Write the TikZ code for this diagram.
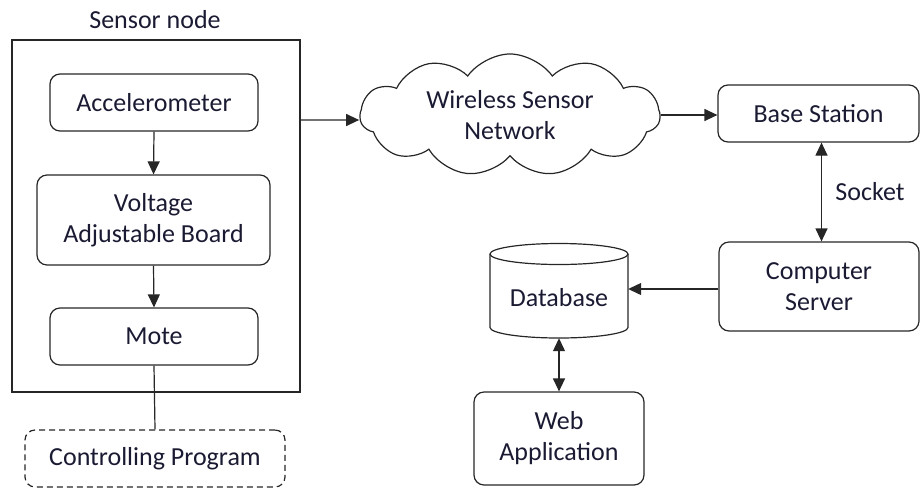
\documentclass[tikz,border=0pt]{standalone}
\usepackage{fontspec}
\setmainfont{Carlito}
\usetikzlibrary{arrows.meta,shapes.symbols}
\definecolor{ink}{HTML}{1A1A33}
\begin{document}
\begin{tikzpicture}[x=1pt,y=-1pt,
  line/.style={draw=black!85, line width=1.2pt},
  txt/.style={text=ink, font=\fontsize{26}{31}\selectfont, align=center},
  box/.style={line, txt, rounded corners=10pt, inner sep=0pt},
  arr/.style={line, -{Triangle[length=13pt,width=12pt]}},
  dblarr/.style={line, {Triangle[length=13pt,width=12pt]}-{Triangle[length=13pt,width=12pt]}}]
\useasboundingbox (0,0) rectangle (920,488);

% sensor node enclosure and its parts
\node[line, inner sep=0pt, minimum width=288pt, minimum height=352pt] (sensor) at (156,216) {};
\node[txt] (sensorlbl) at (155,20) {Sensor node};
\node[box, minimum width=208pt, minimum height=57pt] (acc) at (154,102.5) {Accelerometer};
\node[box, minimum width=233pt, minimum height=90pt] (volt) at (153.5,220) {Voltage\\Adjustable Board};
\node[box, minimum width=208pt, minimum height=57pt] (mote) at (154,336.5) {Mote};
\node[box, dashed, dash pattern=on 6pt off 4pt, minimum width=260pt, minimum height=57pt] (ctrl) at (155,458.5) {Controlling Program};

\draw[arr] (acc.south) -- (volt.north);
\draw[arr] (volt.south) -- (mote.north);
\draw[line] (mote.south) -- (ctrl.north);

% network cloud
\node[cloud, line, txt, cloud puffs=11, cloud puff arc=110, aspect=2.6,
      minimum width=300pt, minimum height=118pt, inner sep=0pt] (wsn) at (510,115) {Wireless Sensor\\Network};

% back end
\node[box, minimum width=201pt, minimum height=57pt] (bs) at (818.5,113.5) {Base Station};
\node[box, minimum width=200pt, minimum height=89pt] (cs) at (819,286.5) {Computer\\Server};
\node[box, minimum width=170pt, minimum height=93pt] (web) at (559,438.5) {Web\\Application};

% database cylinder
\node[inner sep=0pt, minimum width=138pt, minimum height=95pt] (db) at (559,290.5) {};
\draw[line] (490,254) -- (490,327.5) arc[start angle=180, end angle=360, x radius=69pt, y radius=10.5pt] -- (628,254);
\draw[line] (559,254) ellipse[x radius=69pt, y radius=10.5pt];
\node[txt] (dblbl) at (559,298) {Database};

% connectors
\draw[arr] (sensor.east |- 0,120) -- ([yshift=-5pt]wsn.west);
\draw[arr] (wsn.east) -- (wsn.east -| bs.west);
\draw[dblarr] ([xshift=3pt]bs.south) -- ([xshift=3pt]bs.south |- cs.north);
\node[txt] (socket) at (870,192) {Socket};
\draw[arr] (cs.west |- 0,289) -- (db.east |- 0,289);
\draw[dblarr] (db.south) -- (web.north);
\end{tikzpicture}
\end{document}
